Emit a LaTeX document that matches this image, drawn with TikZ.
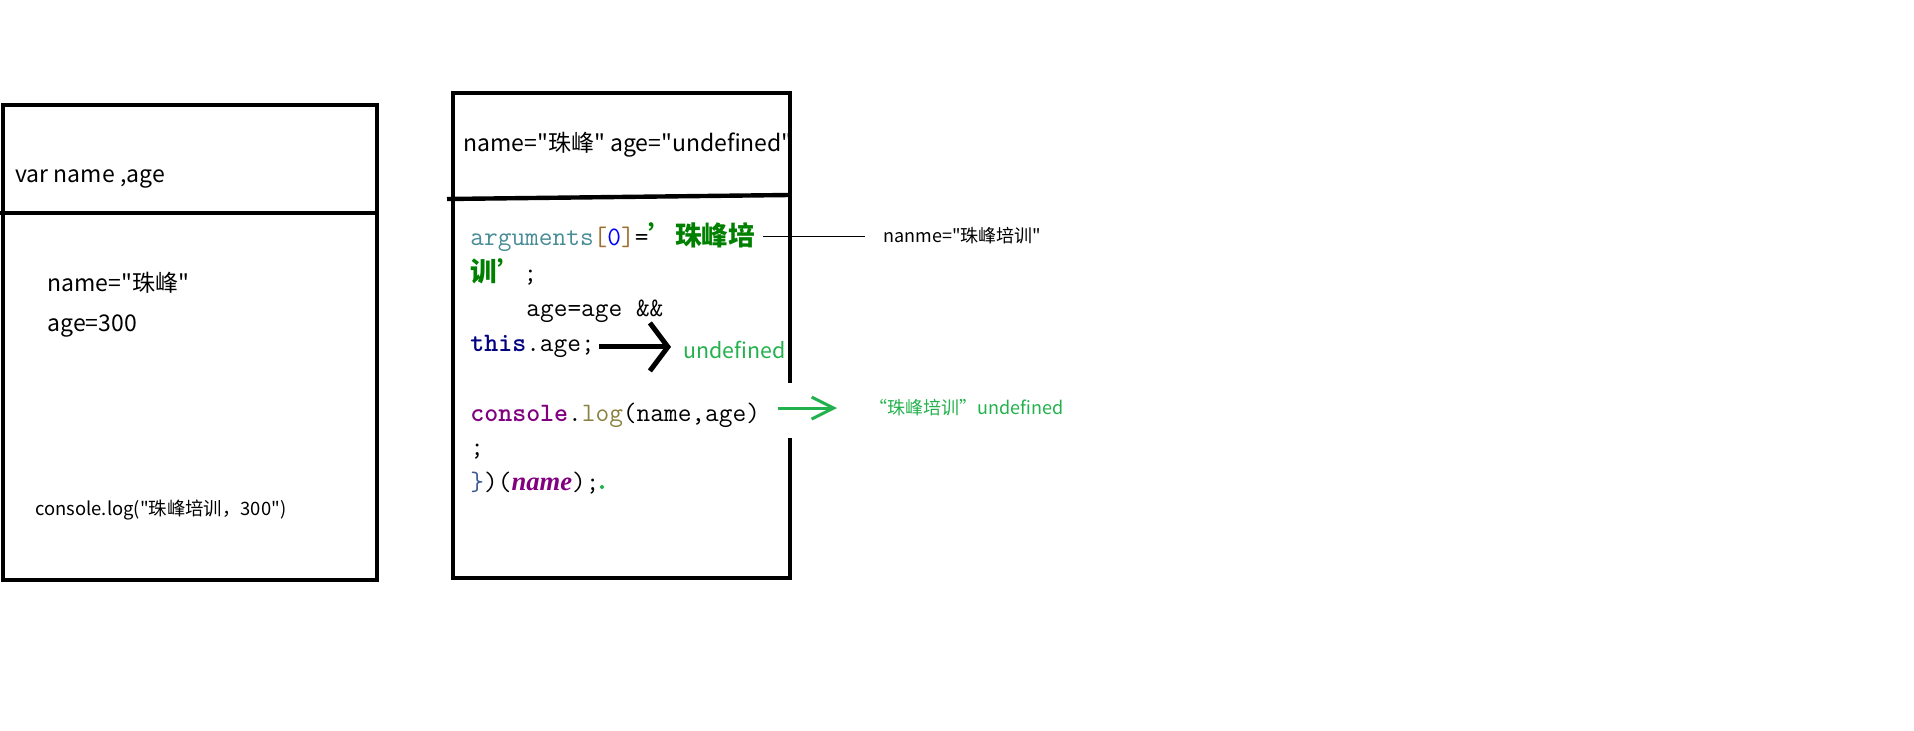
\documentclass[tikz,border=0pt]{standalone}
\usepackage{fontspec}
\setmainfont{Noto Sans CJK SC}[Ligatures=TeXOff]
\newfontfamily\cjk{Noto Sans CJK SC}[Ligatures=TeXOff]
\newfontfamily\codeit{Liberation Serif}
\usepackage{xcolor}
\usetikzlibrary{arrows.meta,positioning,calc}

\definecolor{paintgreen}{RGB}{34,177,76}
\definecolor{codegreen}{RGB}{0,128,0}
\definecolor{argcol}{RGB}{72,140,150}
\definecolor{brkcol}{RGB}{160,110,50}
\definecolor{thiscol}{RGB}{0,0,128}
\definecolor{conscol}{RGB}{128,0,128}
\definecolor{logcol}{RGB}{138,128,64}
\definecolor{bracecol}{RGB}{60,90,150}

\tikzset{
    txt/.style={inner sep=0pt, anchor=base west},
    big/.style={txt, font=\fontsize{11.5pt}{14pt}\selectfont},
    code/.style={txt, font=\fontsize{13.3pt}{15pt}\selectfont\ttfamily},
    frame/.style={line width=2.2pt},
    thinline/.style={line width=0.5pt},
    bigarrow/.style={line width=2.5pt, -{Straight Barb[length=9pt,width=24pt]}},
    greenarrow/.style={paintgreen, line width=1.5pt, -{Straight Barb[length=11pt,width=11pt]}}
}

\begin{document}
\begin{tikzpicture}[x=0.5pt, y=-0.5pt]
    \useasboundingbox (0,0) rectangle (1914,731);

    % Left box (global scope)
    \draw[frame] (3,105) rectangle (377,580);
    \draw[frame] (0,213) -- (377,213);
    \node[big] (vardecl) at (15,183) {var name ,age};
    \node[big] (nameset) at (47,292) {name="珠峰"};
    \node[big] (ageset) at (47,332) {age=300};
    \node[txt, font=\fontsize{9.2pt}{11pt}\selectfont] (outlog) at (35,515) {console.log("珠峰培训，300")};

    % Right box (function scope), right edge has a gap
    \draw[frame] (790,383) -- (790,93) -- (453,93) -- (453,578) -- (790,578) -- (790,438);
    \draw[frame] (447,199) -- (790,195);
    \node[big] (params) at (463,152) {name="珠峰" age="undefined"};

    % Code lines
    \node[code] (code1) at (470,246) {{\color{argcol}arguments}{\color{brkcol}[}{\color{blue}0}{\color{brkcol}]}={\cjk\bfseries\color{codegreen}’珠峰培}};
    \node[code] (code2) at (470,282) {{\cjk\bfseries\color{codegreen}训’};};
    \node[code] (code3) at (526,317) {age=age \&\&};
    \node[code] (code4) at (470,352) {{\bfseries\color{thiscol}this}.age;};
    \node[code] (code5) at (470,422) {{\bfseries\color{conscol}console}.{\color{logcol}log}(name,age)};
    \node[code] (code6) at (470,455) {;};
    \node[code] (code7) at (470,490) {{\color{bracecol}\}})({\codeit\bfseries\itshape\color{conscol}name});};
    \fill[paintgreen] (602,487) circle (1pt);

    % Annotations
    \node[txt, font=\fontsize{10.7pt}{13pt}\selectfont, text=paintgreen] (undef) at (683,359) {undefined};
    \node[txt, font=\fontsize{9pt}{11pt}\selectfont] (nanme) at (883,243) {nanme="珠峰培训"};
    \node[txt, font=\fontsize{9pt}{11pt}\selectfont, text=paintgreen] (result) at (869,415) {“珠峰培训”undefined};

    % Connectors
    \draw[thinline, shorten <=4pt, shorten >=9pt] (nanme.west -| code1.east) -- (nanme.west);
    \draw[bigarrow, shorten <=2pt, shorten >=6pt] (code4.east) -- (code4.east -| undef.west);
    \draw[greenarrow, shorten <=9pt, shorten >=16pt] (result.west -| code5.east) -- (result.west);
\end{tikzpicture}
\end{document}
